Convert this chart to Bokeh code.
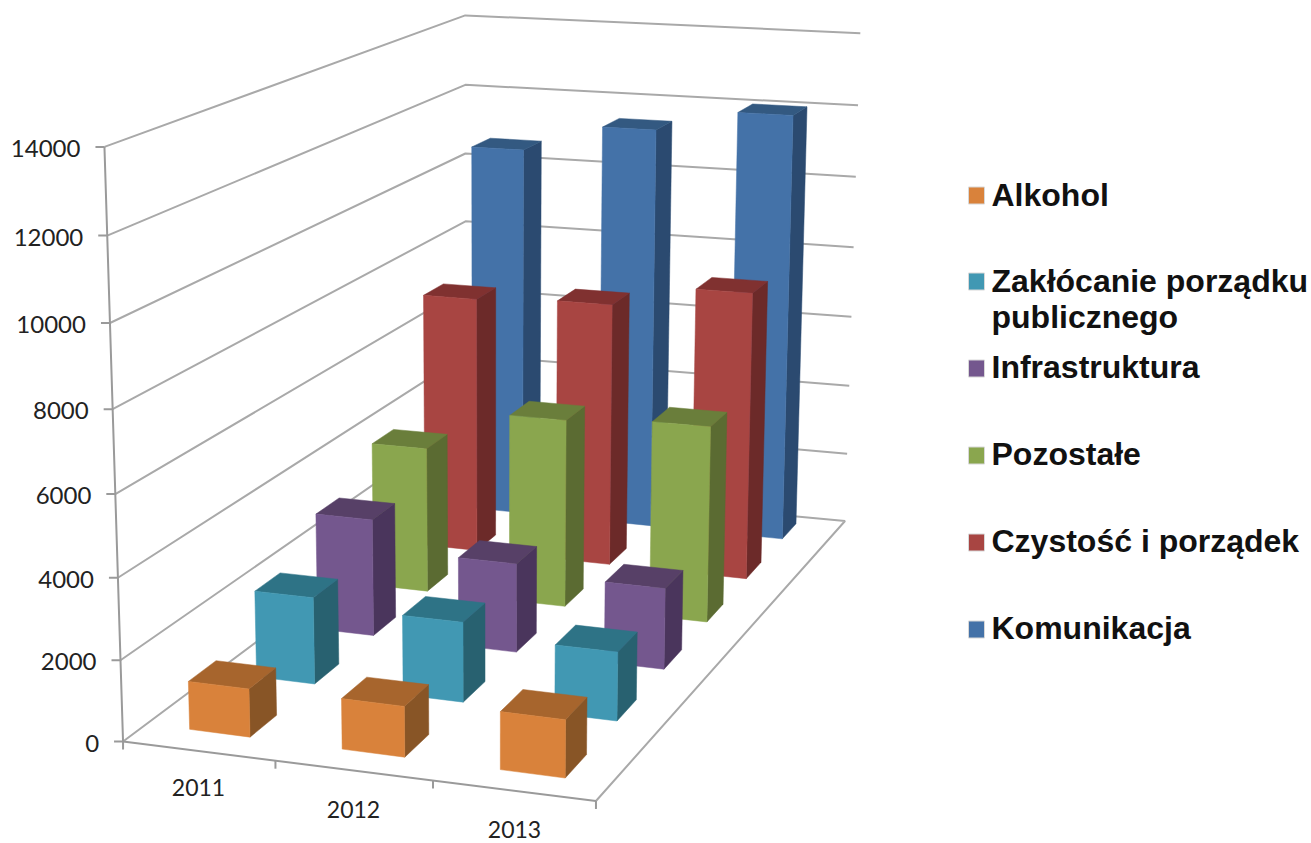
import numpy as np
from bokeh.core.properties import value
from bokeh.embed import file_html
from bokeh.models import Range1d
from bokeh.plotting import figure
from bokeh.resources import INLINE

years = ["2011", "2012", "2013"]
series = ["Alkohol", "Zakłócanie porządku publicznego", "Infrastruktura", "Pozostałe", "Czystość i porządek", "Komunikacja"]
alkohol = [1195, 1240, 1400]
zaklocanie = [2225, 2030, 1725]
infrastruktura = [3100, 2335, 2105]
pozostale = [3960, 5080, 5250]
czystosc = [7190, 7320, 7925]
komunikacja = [10680, 11460, 12070]
ticks = [0, 2000, 4000, 6000, 8000, 10000, 12000, 14000]
values = [alkohol, zaklocanie, infrastruktura, pozostale, czystosc, komunikacja]

front = ["#D9823B", "#4198B3", "#74578E", "#8AA64E", "#A84542", "#4472A8"]
top = ["#A7652D", "#2E7386", "#574067", "#6A7E3B", "#803130", "#335981"]
side = ["#885526", "#286170", "#4A355C", "#5B6B32", "#6C2A29", "#2B4A70"]

# camera calibration: box position (category, series, thousands) -> page pixel
calib = [
    ((0, 0, 0), (122, 739)), ((1, 0, 0), (274, 760)), ((2, 0, 0), (433, 781)), ((3, 0, 0), (597, 804)),
    ((3, 6, 0), (843, 516)), ((0, 6, 0), (466, 491)),
    ((0, 0, 2), (120, 657)), ((0, 0, 4), (118, 576)), ((0, 0, 6), (115, 492)), ((0, 0, 8), (112, 409)),
    ((0, 0, 10), (110, 323)), ((0, 0, 12), (106, 236)), ((0, 0, 14), (103, 148)),
    ((0, 6, 14), (465, 15)), ((0, 6, 12), (465, 83)), ((0, 6, 10), (465, 151)),
    ((3, 6, 14), (860, 34)), ((3, 6, 12), (858, 105)), ((3, 6, 10), (855, 176)),
]
# floor footprints of the bars, as seen in the picture
calib_bars = [
    ((0.7, 0.3, 0), (249, 737)), ((1.7, 0.3, 0), (404, 757)), ((2.7, 0.3, 0), (565, 779)),
    ((0.7, 1.3, 0), (314, 683)), ((1.7, 1.3, 0), (463, 702)), ((2.7, 1.3, 0), (617, 721)),
    ((0.7, 2.3, 0), (373, 634)), ((1.7, 2.3, 0), (515, 652)), ((2.7, 2.3, 0), (663, 669)),
    ((0.7, 3.3, 0), (427, 589)), ((1.7, 3.3, 0), (566, 605)), ((2.7, 3.3, 0), (706, 621)),
    ((0.7, 4.3, 0), (476, 547)), ((1.7, 4.3, 0), (612, 563)), ((2.7, 4.3, 0), (745, 578)),
    ((2.7, 5.3, 0), (782, 537)),
]


def camera(points):
    rows = []
    for (X, Y, Z), (u, v) in points:
        rows.append([X, Y, Z, 1, 0, 0, 0, 0, -u * X, -u * Y, -u * Z, -u])
        rows.append([0, 0, 0, 0, X, Y, Z, 1, -v * X, -v * Y, -v * Z, -v])
    return np.linalg.svd(np.array(rows, float))[2][-1].reshape(3, 4)


P_box = camera(calib)
P_bar = camera(calib + calib_bars + calib_bars)


def proj(c, s, val, P=P_box):
    h = P @ np.array([c, s, val / 1000.0, 1.0])
    return float(h[0] / h[2]), float(h[1] / h[2])


W, H = 1311, 843
p = figure(width=W, height=H, x_range=Range1d(0, W), y_range=Range1d(H, 0),
           output_backend="svg", toolbar_location=None, min_border=0)
p.axis.visible = False
p.grid.visible = False
p.outline_line_color = None
p.background_fill_color = "white"

# walls and floor
gx, gy = [], []
for t in ticks[1:]:
    pts = [proj(0, 0, t), proj(0, 6, t), proj(3, 6, t)]
    gx.append([a for a, _ in pts]); gy.append([b for _, b in pts])
pts = [proj(0, 0, 0), proj(0, 6, 0), proj(3, 6, 0), proj(3, 0, 0)]
gx.append([a for a, _ in pts]); gy.append([b for _, b in pts])
p.multi_line(gx, gy, line_color="#a9a9a9", line_width=2)

# main axes and ticks
ax, ay = [], []
a0, a1, a2 = proj(0, 0, 14000), proj(0, 0, 0), proj(3, 0, 0)
ax += [[a0[0], a1[0]], [a1[0], a2[0]]]; ay += [[a0[1], a1[1]], [a1[1], a2[1]]]
for t in ticks:
    x, y = proj(0, 0, t)
    ax.append([x - 9, x]); ay.append([y, y])
for c in range(4):
    x, y = proj(c, 0, 0)
    ax.append([x, x]); ay.append([y, y + 8])
p.multi_line(ax, ay, line_color="#9a9a9a", line_width=2)

# bars, back to front
BW, BD = 0.40, 0.40
xs, ys, cols = [], [], []
for s in range(5, -1, -1):
    for c in range(3):
        v = values[s][c]
        x0, x1 = c + 0.5 - BW / 2, c + 0.5 + BW / 2
        y0, y1 = s + 0.5 - BD / 2, s + 0.5 + BD / 2
        faces = [
            ([(x1, y0, 0), (x1, y1, 0), (x1, y1, v), (x1, y0, v)], side[s]),
            ([(x0, y0, v), (x1, y0, v), (x1, y1, v), (x0, y1, v)], top[s]),
            ([(x0, y0, 0), (x1, y0, 0), (x1, y0, v), (x0, y0, v)], front[s]),
        ]
        for corners, col in faces:
            pp = [proj(*q, P_bar) for q in corners]
            xs.append([a for a, _ in pp]); ys.append([b for _, b in pp]); cols.append(col)
p.patches(xs, ys, fill_color=cols, line_color=cols, line_width=0.5)

# tick labels
lx, ly, lt = [], [], []
for t in ticks:
    x, y = proj(0, 0, t)
    lx.append(x - 24); ly.append(y + 1.5); lt.append(str(t))
p.text(lx, ly, text=lt, text_font=value("Lato"), text_font_size="24px", text_color="#222222",
       text_align="right", text_baseline="middle")
p.text([198, 353, 514], [787, 809, 829], text=years, text_font=value("Lato"), text_font_size="23px",
       text_color="#222222", text_align="center", text_baseline="middle")

# legend
leg_y = [195, 281, 368, 455, 542, 629]
p.rect([976] * 6, leg_y, width=16, height=17, fill_color=front, line_color="#d8d8d8", line_width=1)
leg_names = ["Alkohol", "Zakłócanie porządku", "publicznego", "Infrastruktura", "Pozostałe", "Czystość i porządek", "Komunikacja"]
leg_mid = [194.5, 280.5, 316.5, 366.5, 453.5, 540.5, 627.5]
p.text([991] * 7, leg_mid, text=leg_names, text_font=value("Liberation Sans"), text_font_size="32px",
       text_font_style="bold", text_color="#111111", text_align="left", text_baseline="middle")

open("out.html", "w").write(file_html(p, INLINE))
